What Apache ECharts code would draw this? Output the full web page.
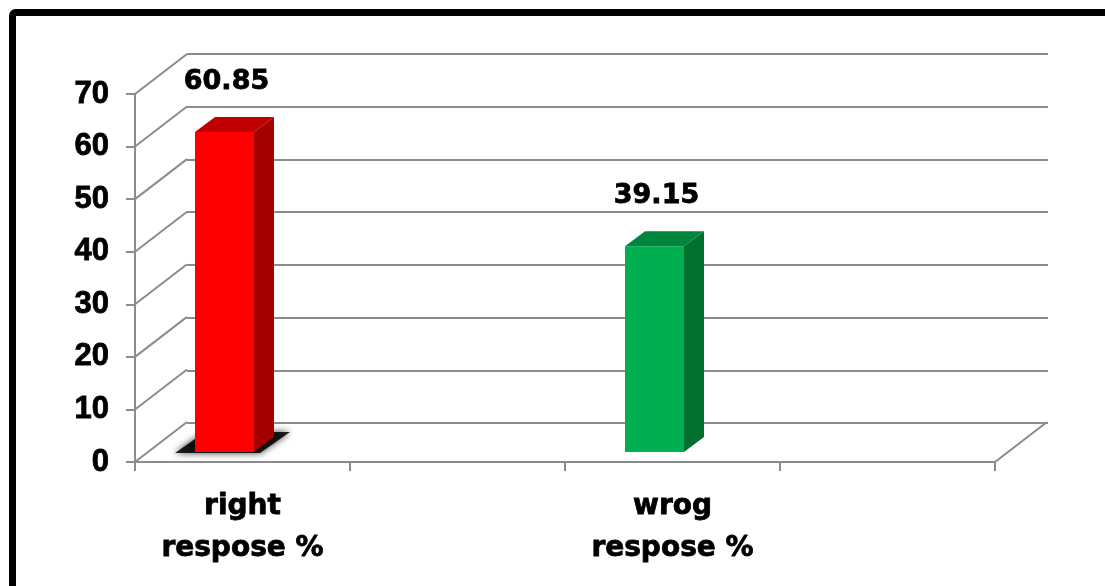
<!DOCTYPE html>
<html>
<head>
<meta charset="utf-8">
<script src="https://cdn.jsdelivr.net/npm/echarts@6/dist/echarts.min.js"></script>
<style>
  html, body { margin: 0; padding: 0; background: #fff; }
  #main { width: 1105px; height: 586px; }
</style>
</head>
<body>
<div id="main"></div>
<script>
// data
var categories = ['right\nrespose %', '', 'wrog\nrespose %', ''];
var values = [60.85, null, 39.15, null];
var yTicks = [0, 10, 20, 30, 40, 50, 60, 70];

var myChart = echarts.init(document.getElementById('main'));

// depth of the floor / back wall, and of the bars
var DEPTH = [52, -40];
var BAR_DEPTH = [20, -15];
var gridColor = '#8c8c8c';

var barData = [];
for (var i = 0; i < values.length; i++) {
    if (values[i] != null) barData.push([i, values[i]]);
}

function renderWalls(params, api) {
    var v = api.value(0);
    var half = api.size([1, 0])[0] / 2;
    var p = api.coord([0, v]);
    var x0 = p[0] - half;
    var children = [{
        type: 'line',
        shape: { x1: x0, y1: p[1], x2: x0 + DEPTH[0], y2: p[1] + DEPTH[1] },
        style: { stroke: gridColor, lineWidth: 2 }
    }];
    if (v === 0) {
        var q = api.coord([categories.length - 1, 0]);
        var x1 = q[0] + half;
        children.push({
            type: 'line',
            shape: { x1: x1, y1: q[1], x2: x1 + DEPTH[0], y2: q[1] + DEPTH[1] },
            style: { stroke: gridColor, lineWidth: 2 }
        });
    }
    return { type: 'group', children: children };
}

var palette = [
    { front: '#ff0000', top: '#c00000', side: '#a30000' },
    { front: '#00b050', top: '#00853c', side: '#006f2f' }
];

function renderBar(params, api) {
    var cat = api.value(0);
    var v = api.value(1);
    var base = api.coord([cat, 0]);
    var top = api.coord([cat, v]);
    var cx = base[0] - 18;
    var w = 59;
    var x1 = cx - w / 2, x2 = cx + w / 2;
    var yb = base[1] - 10, yt = top[1] - 10;
    var c = palette[params.dataIndex];
    var dx = BAR_DEPTH[0], dy = BAR_DEPTH[1];
    var children = [];
    if (params.dataIndex === 0) {
        // soft shadow on the floor under the first bar
        children.push({
            type: 'polygon',
            shape: { points: [[x1 - 20, yb + 1], [x2 + 6, yb + 1], [x2 + 36, yb - 20], [x1 + 10, yb - 20]] },
            style: { fill: 'rgba(0,0,0,0.85)', shadowBlur: 7, shadowColor: 'rgba(0,0,0,0.9)' }
        });
    }
    children.push({
        type: 'rect',
        shape: { x: x1, y: yt, width: w, height: yb - yt },
        style: { fill: c.front }
    });
    children.push({
        type: 'polygon',
        shape: { points: [[x1, yt], [x2, yt], [x2 + dx, yt + dy], [x1 + dx, yt + dy]] },
        style: { fill: c.top }
    });
    children.push({
        type: 'polygon',
        shape: { points: [[x2, yt], [x2 + dx, yt + dy], [x2 + dx, yb + dy], [x2, yb]] },
        style: { fill: c.side }
    });
    children.push({
        type: 'text',
        x: cx + 2,
        y: yt + dy - 35,
        style: {
            text: v.toFixed(2),
            fill: '#000',
            stroke: '#000',
            lineWidth: 0.8,
            font: 'bold 27px "DejaVu Sans"',
            align: 'center',
            verticalAlign: 'middle'
        }
    });
    return { type: 'group', children: children };
}

var option = {
    animation: false,
    backgroundColor: '#fff',
    graphic: [{
        type: 'rect',
        shape: { x: 12.5, y: 12.5, width: 1200, height: 700, r: 3 },
        style: { fill: 'none', stroke: '#000', lineWidth: 7 },
        z: 100
    }],
    grid: [
        { left: 135, right: 110, top: 94, bottom: 124 },
        { left: 187, right: 57, top: 54, bottom: 163 }
    ],
    xAxis: [
        {
            type: 'category',
            gridIndex: 0,
            data: categories,
            axisLine: { lineStyle: { color: gridColor, width: 2 } },
            axisTick: { show: true, length: 9, lineStyle: { color: gridColor, width: 2 } },
            axisLabel: {
                interval: 0,
                margin: 24,
                color: '#000',
                fontFamily: 'DejaVu Sans',
                fontWeight: 'bold',
                fontSize: 28,
                lineHeight: 42,
                textBorderColor: '#000',
                textBorderWidth: 0.8
            }
        },
        {
            type: 'category',
            gridIndex: 1,
            data: categories,
            show: false
        }
    ],
    yAxis: [
        {
            type: 'value',
            gridIndex: 0,
            min: 0,
            max: 70,
            interval: 10,
            axisLine: { show: true, lineStyle: { color: gridColor, width: 2 } },
            axisTick: { show: true, length: 9, lineStyle: { color: gridColor, width: 2 } },
            splitLine: { show: false },
            axisLabel: {
                margin: 26,
                color: '#000',
                fontFamily: 'Liberation Sans',
                fontWeight: 'bold',
                fontSize: 31,
                textBorderColor: '#000',
                textBorderWidth: 0.8
            }
        },
        {
            type: 'value',
            gridIndex: 1,
            min: 0,
            max: 70,
            interval: 10,
            axisLine: { show: false },
            axisTick: { show: false },
            axisLabel: { show: false },
            splitLine: { show: true, lineStyle: { color: gridColor, width: 2 } }
        }
    ],
    series: [
        {
            type: 'custom',
            xAxisIndex: 0,
            yAxisIndex: 0,
            renderItem: renderWalls,
            data: yTicks.map(function (t) { return [t]; }),
            encode: { y: 0 },
            silent: true,
            z: 1
        },
        {
            type: 'custom',
            xAxisIndex: 0,
            yAxisIndex: 0,
            renderItem: renderBar,
            data: barData,
            encode: { x: 0, y: 1 },
            z: 5
        }
    ]
};

myChart.setOption(option);
</script>
</body>
</html>
